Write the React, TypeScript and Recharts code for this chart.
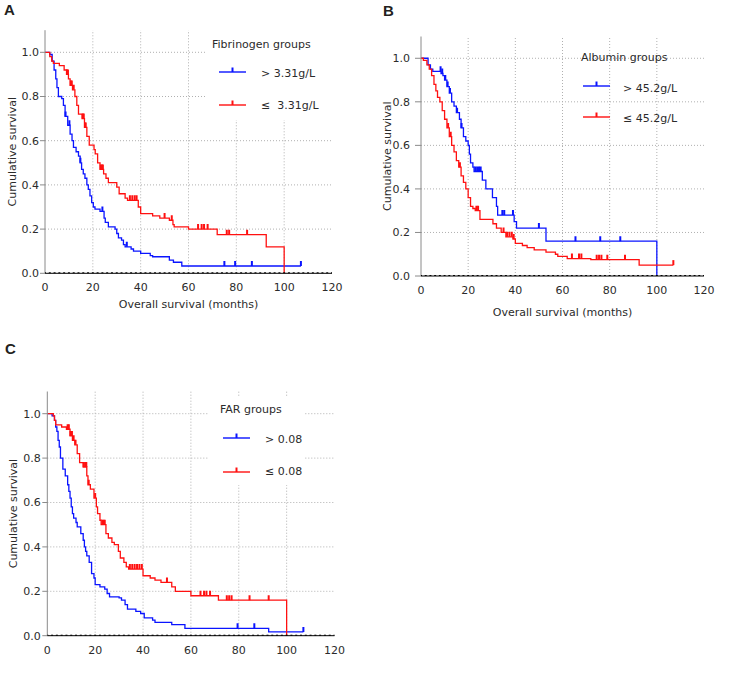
import React from 'react';
import { ComposedChart, Line, XAxis, YAxis, ReferenceLine, Scatter, Legend } from 'recharts';

type Step = [number, number];

const FONT = '"DejaVu Sans", Verdana, sans-serif';
const TEXT = '#2b2b2b';
const BLUE = '#0a14ff';
const RED = '#ff1010';

const monthTicks = [0, 20, 40, 60, 80, 100, 120];
const survivalTicks = [0, 0.2, 0.4, 0.6, 0.8, 1.0];
const gridMonths = [20, 40, 60, 80, 100];
const gridSurvival = [0.2, 0.4, 0.6, 0.8, 1.0];
const axisDotMonths = Array.from({ length: 61 }, (_, i) => i * 2);

// Panel A: Fibrinogen groups
const fibHighSteps: Step[] = [
  [0, 1], [2, 0.99], [3, 0.96], [3.8, 0.92], [4.5, 0.88], [5, 0.84], [5.6, 0.8], [7, 0.79], [7.7, 0.76],
  [8.4, 0.71], [9.5, 0.67], [10.5, 0.63], [11.3, 0.6], [11.9, 0.57], [13, 0.55], [14, 0.53], [14.7, 0.5],
  [15.3, 0.47], [16, 0.45], [16.7, 0.43], [17.5, 0.4], [18.1, 0.38], [18.8, 0.35], [19.5, 0.32], [20.2, 0.3],
  [20.9, 0.29], [23, 0.28], [24.7, 0.25], [25.2, 0.23], [26.5, 0.21], [29.3, 0.2], [30, 0.18], [30.7, 0.16],
  [32, 0.15], [32.8, 0.13], [33.5, 0.12], [36, 0.11], [37, 0.1], [40, 0.09], [44, 0.08], [45, 0.075],
  [52, 0.06], [53.7, 0.05], [57.2, 0.033],
];
const fibHighCensor = [8.6, 10.2, 14.8, 24, 34.2, 75, 79.5, 86.5, 107];
const fibLowSteps: Step[] = [
  [0, 1], [2, 0.98], [2.8, 0.96], [3.5, 0.95], [6, 0.94], [8, 0.92], [9, 0.9], [9.8, 0.88], [10.5, 0.85],
  [11.5, 0.83], [12.5, 0.8], [13.3, 0.76], [14, 0.72], [15.5, 0.7], [16.5, 0.66], [17.5, 0.62], [18.5, 0.58],
  [20.5, 0.56], [21, 0.54], [22, 0.5], [23, 0.47], [24.5, 0.45], [25.5, 0.43], [26.5, 0.41], [30, 0.39],
  [31, 0.36], [33.5, 0.34], [34.5, 0.33], [39, 0.3], [40, 0.27], [45, 0.26], [48, 0.25], [52, 0.24],
  [53.5, 0.22], [54, 0.21], [60, 0.2], [72, 0.175], [92.5, 0.12], [100, 0],
];
const fibLowCensor = [9.2, 9.6, 10.8, 11.2, 12, 15.8, 16.2, 16.8, 17, 23.3, 23.8, 24.2, 35.5, 36.5, 37.5, 38.3, 50, 53, 64, 65.5, 66.5, 68, 76, 77, 84.5];

// Panel B: Albumin groups
const albHighSteps: Step[] = [
  [0, 1], [3, 0.97], [4, 0.95], [5, 0.94], [8.5, 0.93], [9.3, 0.92], [10, 0.9], [11, 0.87], [12, 0.84],
  [13, 0.8], [14, 0.78], [15, 0.75], [16.3, 0.72], [17, 0.68], [18, 0.64], [19, 0.62], [20, 0.6],
  [20.5, 0.56], [21, 0.52], [22, 0.5], [22.5, 0.48], [26, 0.44], [27.5, 0.4], [30.3, 0.36], [32, 0.32],
  [32.5, 0.28], [39.5, 0.25], [40.5, 0.22], [53, 0.16], [100, 0],
];
const albHighCensor = [8.3, 9, 10.3, 11.3, 12.3, 15.3, 17.2, 23, 23.8, 24.6, 25.3, 34.5, 35.3, 39, 50, 65.5, 76, 84.5];
const albLowSteps: Step[] = [
  [0, 1], [1, 0.99], [2.5, 0.97], [3.5, 0.95], [4.5, 0.92], [5.5, 0.88], [6.3, 0.85], [7, 0.82], [8, 0.8],
  [9, 0.76], [10, 0.72], [11, 0.68], [12, 0.64], [13, 0.6], [14, 0.57], [15, 0.53], [16, 0.5], [17, 0.46],
  [18, 0.43], [19, 0.4], [20, 0.36], [21, 0.32], [22, 0.31], [23, 0.3], [25, 0.26], [30.5, 0.24], [32, 0.22],
  [34, 0.2], [36, 0.18], [39, 0.17], [40, 0.15], [43, 0.14], [45, 0.13], [48, 0.12], [53, 0.11], [57, 0.1],
  [58, 0.09], [62, 0.08], [72, 0.075], [92.5, 0.05],
];
const albLowCensor = [11.5, 12.6, 16.5, 23.5, 24.2, 35, 36.5, 37.5, 38.5, 39.3, 64, 67, 68, 74.5, 75.5, 76.5, 79, 86.5, 107];

// Panel C: FAR groups
const farHighSteps: Step[] = [
  [0, 1], [2, 0.99], [3, 0.97], [3.5, 0.94], [4, 0.92], [4.5, 0.88], [5, 0.85], [5.5, 0.8], [6.5, 0.75],
  [7.5, 0.72], [8.5, 0.68], [9, 0.65], [9.5, 0.62], [10, 0.58], [10.5, 0.55], [11, 0.53], [12, 0.51],
  [12.5, 0.49], [14, 0.46], [15, 0.43], [15.5, 0.4], [16, 0.38], [16.5, 0.36], [17.5, 0.33], [18.5, 0.28],
  [19.5, 0.26], [20, 0.23], [22, 0.22], [24, 0.21], [25, 0.19], [26, 0.175], [30, 0.17], [31, 0.16],
  [32.5, 0.14], [33.5, 0.12], [37, 0.11], [39, 0.1], [40.5, 0.08], [44, 0.07], [45, 0.06], [52, 0.05],
  [57.5, 0.033], [92.5, 0.017],
];
const farHighCensor = [79.5, 86.5, 107];
const farLowSteps: Step[] = [
  [0, 1], [2.5, 0.99], [3, 0.97], [3.5, 0.95], [6, 0.94], [8, 0.93], [9.5, 0.9], [10.5, 0.88], [11.5, 0.86],
  [12.5, 0.82], [13.5, 0.78], [15, 0.76], [16.5, 0.72], [17, 0.68], [18, 0.66], [19.5, 0.62], [20.5, 0.58],
  [21, 0.55], [22, 0.52], [22.5, 0.5], [24.5, 0.46], [25.5, 0.44], [27, 0.42], [28, 0.41], [29.7, 0.38],
  [30.5, 0.35], [32, 0.33], [33, 0.31], [34, 0.3], [40, 0.27], [43, 0.26], [45, 0.25], [47.5, 0.24],
  [52, 0.22], [53.5, 0.2], [60, 0.18], [71.5, 0.16], [100, 0],
];
const farLowCensor = [8.5, 9, 9.7, 10.3, 11, 11.8, 15.2, 15.8, 16.3, 17.3, 20, 23, 23.5, 24, 34.5, 35.5, 36.5, 37.5, 38.5, 39.5, 50, 64, 65.5, 66.5, 68, 75, 76, 77, 84.5, 92.5];

type Pt = { t: number; s: number; c: number };

function buildCurve(steps: Step[], censor: number[]): Pt[] {
  const pts: Pt[] = steps.map(([t, s]) => ({ t, s, c: 0 }));
  const valueAt = (t: number) => {
    let v = steps[0][1];
    for (const [st, sv] of steps) if (st <= t) v = sv;
    return v;
  };
  censor.forEach((t) => pts.push({ t, s: valueAt(t), c: 1 }));
  pts.sort((a, b) => a.t - b.t || a.c - b.c);
  return pts;
}

const axisDots = axisDotMonths.map((t) => ({ t, s: 0 }));

const censorDot = (color: string) => (props: any) => {
  const { cx, cy, payload, index } = props;
  if (!payload || !payload.c || cx == null || cy == null) return <g key={`n${index}`} />;
  return <line key={`c${index}`} x1={cx} x2={cx} y1={cy} y2={cy - 5} stroke={color} strokeWidth={2} />;
};

const axisDotShape = (props: any) => (
  <rect x={props.cx - 1} y={props.cy - 1} width={2} height={2} fill="#000" />
);

type LegendCfg = {
  x: number; y: number; w: number; h: number; bg: string;
  title: string; titleX: number; titleY: number;
  labels: [string, string]; lineX: number; lineY: [number, number]; textX: number; textY: [number, number];
};

type PanelCfg = {
  left: number; top: number; width: number; height: number;
  margin: { top: number; right: number; bottom: number; left: number };
  yTickSize: number; yTickMargin: number; yTitleOffset: number;
  xTitle?: string; xTitleOffset: number;
  series: { data: Pt[]; color: string; name: string }[];
  legend: LegendCfg;
};

function makeLegend(cfg: LegendCfg, colors: string[]) {
  return () => (
    <div style={{ position: 'relative', width: cfg.w, height: cfg.h, background: cfg.bg, fontFamily: FONT, fontSize: 11, color: TEXT }}>
      <div style={{ position: 'absolute', left: cfg.titleX, top: cfg.titleY - 7, lineHeight: '14px', whiteSpace: 'pre' }}>{cfg.title}</div>
      {cfg.labels.map((lab, i) => (
        <React.Fragment key={lab}>
          <svg width={28} height={8} style={{ position: 'absolute', left: cfg.lineX, top: cfg.lineY[i] - 6 }}>
            <line x1={0} x2={27} y1={6} y2={6} stroke={colors[i]} strokeWidth={1.4} />
            <line x1={13.5} x2={13.5} y1={1.5} y2={6} stroke={colors[i]} strokeWidth={2} />
          </svg>
          <div style={{ position: 'absolute', left: cfg.textX, top: cfg.textY[i] - 7, lineHeight: '14px', whiteSpace: 'pre' }}>{lab}</div>
        </React.Fragment>
      ))}
    </div>
  );
}

function Panel({ cfg }: { cfg: PanelCfg }) {
  const L = cfg.legend;
  return (
    <div style={{ position: 'absolute', left: cfg.left, top: cfg.top, fontFamily: FONT }}>
      <ComposedChart width={cfg.width} height={cfg.height} margin={cfg.margin}>
        {gridMonths.map((m) => (
          <ReferenceLine key={`gx${m}`} x={m} stroke="#b0b0b0" strokeDasharray="1 2" />
        ))}
        {gridSurvival.map((v) => (
          <ReferenceLine key={`gy${v}`} y={v} stroke="#b0b0b0" strokeDasharray="1 2" />
        ))}
        <XAxis
          dataKey="t" type="number" domain={[0, 120]} ticks={monthTicks} allowDataOverflow height={40}
          axisLine={{ stroke: '#000' }} tickLine={false} tickSize={0} tickMargin={10}
          tick={{ fontSize: 11, fill: TEXT }}
          label={cfg.xTitle ? { value: cfg.xTitle, position: 'insideBottom', offset: cfg.xTitleOffset, style: { fontSize: 11, fill: TEXT } } : undefined}
        />
        <YAxis
          type="number" domain={[0, 1.1]} ticks={survivalTicks} allowDataOverflow width={40}
          axisLine={{ stroke: '#8a8a8a' }} tickLine={{ stroke: '#8a8a8a' }} tickSize={cfg.yTickSize} tickMargin={cfg.yTickMargin}
          tick={{ fontSize: 11, fill: TEXT }} tickFormatter={(v: number) => v.toFixed(1)}
          label={{ value: 'Cumulative survival', angle: -90, position: 'insideLeft', offset: cfg.yTitleOffset, style: { fontSize: 11, fill: TEXT, textAnchor: 'middle' } }}
        />
        <Scatter data={axisDots} dataKey="s" shape={axisDotShape} isAnimationActive={false} />
        {cfg.series.map((s) => (
          <Line
            key={s.name} name={s.name} data={s.data} dataKey="s" type="stepAfter" stroke={s.color} strokeWidth={1.3}
            dot={censorDot(s.color)} activeDot={false} isAnimationActive={false}
          />
        ))}
        <Legend
          layout="horizontal" verticalAlign="middle" align="center"
          wrapperStyle={{ left: L.x, top: L.y, width: L.w, height: L.h }}
          content={makeLegend(L, cfg.series.map((s) => s.color))}
        />
      </ComposedChart>
    </div>
  );
}

const panelA: PanelCfg = {
  left: 0, top: 0, width: 345, height: 320,
  margin: { top: 30.2, right: 13, bottom: 6.7, left: 5 },
  yTickSize: 5, yTickMargin: 1, yTitleOffset: 7,
  xTitle: 'Overall survival (months)', xTitleOffset: 5,
  series: [
    { data: buildCurve(fibHighSteps, fibHighCensor), color: BLUE, name: '> 3.31g/L' },
    { data: buildCurve(fibLowSteps, fibLowCensor), color: RED, name: '≤  3.31g/L' },
  ],
  legend: {
    x: 205, y: 30, w: 135, h: 90, bg: '#fff', title: 'Fibrinogen groups', titleX: 7, titleY: 15,
    labels: ['> 3.31g/L', '≤  3.31g/L'], lineX: 14, lineY: [42, 74.5], textX: 56, textY: [44, 75.5],
  },
};

const panelB: PanelCfg = {
  left: 376, top: 0, width: 340, height: 325,
  margin: { top: 36.5, right: 12, bottom: 9, left: 5 },
  yTickSize: 6, yTickMargin: 5, yTitleOffset: 6,
  xTitle: 'Overall survival (months)', xTitleOffset: 0.5,
  series: [
    { data: buildCurve(albHighSteps, albHighCensor), color: BLUE, name: '> 45.2g/L' },
    { data: buildCurve(albLowSteps, albLowCensor), color: RED, name: '≤ 45.2g/L' },
  ],
  legend: {
    x: 199, y: 40, w: 130, h: 90, bg: 'transparent', title: 'Albumin groups', titleX: 6, titleY: 18,
    labels: ['> 45.2g/L', '≤ 45.2g/L'], lineX: 8, lineY: [46, 77], textX: 48, textY: [49, 79],
  },
};

const panelC: PanelCfg = {
  left: 0, top: 340, width: 345, height: 346,
  margin: { top: 51.5, right: 10.5, bottom: 10.3, left: 7.3 },
  yTickSize: 5, yTickMargin: 1.5, yTitleOffset: 5.4,
  xTitleOffset: 0,
  series: [
    { data: buildCurve(farHighSteps, farHighCensor), color: BLUE, name: '> 0.08' },
    { data: buildCurve(farLowSteps, farLowCensor), color: RED, name: '≤ 0.08' },
  ],
  legend: {
    x: 208, y: 57, w: 97, h: 88, bg: '#fff', title: 'FAR groups', titleX: 12, titleY: 13,
    labels: ['> 0.08', '≤ 0.08'], lineX: 15, lineY: [41, 74.5], textX: 57, textY: [43, 75],
  },
};

const letterStyle: React.CSSProperties = {
  position: 'absolute', fontFamily: '"Liberation Sans", Arial, sans-serif', fontWeight: 700,
  fontSize: 15, lineHeight: '15px', color: '#231f20',
};

export default function App() {
  return (
    <div style={{ position: 'absolute', left: 0, top: 0, width: 756, height: 686, background: '#fff', overflow: 'hidden' }}>
      <Panel cfg={panelA} />
      <Panel cfg={panelB} />
      <Panel cfg={panelC} />
      <div style={{ ...letterStyle, left: 4, top: 2 }}>A</div>
      <div style={{ ...letterStyle, left: 383, top: 3 }}>B</div>
      <div style={{ ...letterStyle, left: 5, top: 341 }}>C</div>
    </div>
  );
}
